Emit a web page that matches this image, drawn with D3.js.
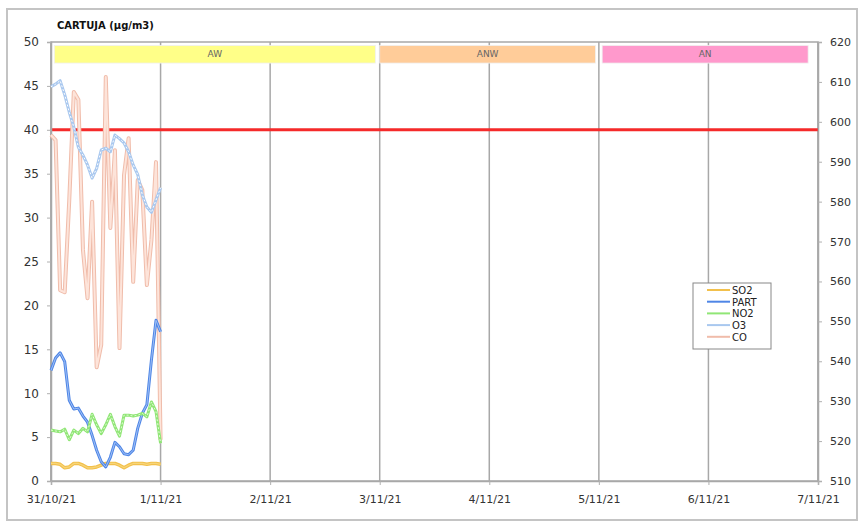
<!DOCTYPE html>
<html>
<head>
<meta charset="utf-8">
<script src="https://cdn.jsdelivr.net/npm/d3@7"></script>
<style>
  body { margin: 0; background: #fff; }
  text { font-family: "DejaVu Sans", Verdana, sans-serif; }
</style>
</head>
<body>
<div id="chart"></div>
<script>
// hourly readings, 31/10/21 00:00 -> 1/11/21 00:00
var hours = d3.range(25);
var so2  = [2.0, 2.0, 1.9, 1.5, 1.6, 2.0, 2.0, 1.8, 1.5, 1.5, 1.6, 1.8, 2.0, 2.0, 2.0, 1.8, 1.5, 1.8, 2.0, 2.0, 2.0, 1.9, 2.0, 2.0, 1.9];
var part = [12.6, 14.0, 14.6, 13.6, 9.2, 8.2, 8.3, 7.4, 6.7, 5.2, 3.5, 2.2, 1.6, 2.7, 4.4, 3.9, 3.1, 3.0, 3.5, 6.0, 7.7, 8.7, 13.8, 18.3, 17.0];
var no2  = [5.8, 5.7, 5.6, 5.9, 4.7, 5.8, 5.4, 6.0, 5.6, 7.6, 6.4, 5.4, 6.4, 7.6, 6.2, 5.1, 7.5, 7.5, 7.4, 7.5, 7.7, 7.3, 9.0, 7.9, 4.3];
var o3   = [44.9, 45.2, 45.6, 44.0, 42.0, 40.3, 38.0, 37.1, 36.0, 34.5, 35.6, 37.7, 37.9, 37.5, 39.4, 39.0, 38.5, 37.5, 36.0, 34.9, 32.6, 31.2, 30.6, 32.0, 33.4];
// CO on the right axis
var co   = [596.7, 595.4, 557.8, 557.3, 580.4, 607.5, 605.5, 567.9, 555.8, 580.0, 538.5, 544.1, 611.2, 573.4, 592.9, 543.3, 586.7, 595.9, 559.9, 585.4, 582.9, 559.1, 570.4, 589.9, 520.3];

var limitValue = 40;

var bandNames = ["AW", "ANW", "AN"];
var bandStart = [0.03, 3.0, 5.03];
var bandEnd   = [2.96, 4.97, 6.91];
var bandColors = ["#ffff88", "#ffcc99", "#ff99cc"];

var leftTicks = [0, 5, 10, 15, 20, 25, 30, 35, 40, 45, 50];
var rightTicks = [510, 520, 530, 540, 550, 560, 570, 580, 590, 600, 610, 620];

var seriesNames = ["SO2", "PART", "NO2", "O3", "CO"];
var seriesValues = [so2, part, no2, o3, co];
var seriesStyle = [
    {outer: "#f2c04c", ow: 3.5, inner: "#f7d57a", iw: 1.2, dash: null, right: false},
    {outer: "#4f86e6", ow: 3, inner: "#9fc0f6", iw: 1, dash: null, right: false},
    {outer: "#90e676", ow: 3, inner: "#e2fbd6", iw: 1, dash: "2,2", right: false},
    {outer: "#a9c8ef", ow: 3, inner: "#ffffff", iw: 1, dash: "2,2", right: false},
    {outer: "#f0bcaa", ow: 4, inner: "#fde4da", iw: 2, dash: null, right: true}
];
// CO sits behind the others
var drawOrder = [4, 0, 1, 2, 3];

function drawChart() {
    var width = 863, height = 525;
    var startDate = new Date(2021, 9, 31);
    var endDate = new Date(2021, 10, 7);

    var svg = d3.select("#chart")
        .append("svg")
        .attr("width", width)
        .attr("height", height);

    // outer frame
    svg.append("rect")
        .attr("x", 7).attr("y", 9)
        .attr("width", 850).attr("height", 511)
        .attr("fill", "#fff")
        .attr("stroke", "#c4c4c4")
        .attr("stroke-width", 2);

    var x = d3.scaleTime().domain([startDate, endDate]).range([51, 818]);
    var yLeft = d3.scaleLinear().domain([0, 50]).range([481, 42]);
    var yRight = d3.scaleLinear().domain([510, 620]).range([481, 42]);

    function hourDate(h) {
        return d3.timeHour.offset(startDate, h);
    }
    function dayDate(d) {
        return new Date(startDate.getTime() + d * 864e5);
    }

    svg.append("text")
        .attr("x", 57).attr("y", 29)
        .attr("font-size", 10)
        .attr("font-weight", "bold")
        .attr("fill", "#111")
        .text("CARTUJA (µg/m3)");

    // vertical day grid
    var days = d3.timeDay.range(startDate, d3.timeDay.offset(endDate, 1));
    svg.append("g")
        .selectAll("line")
        .data(days)
        .enter()
        .append("line")
        .attr("x1", function(d) { return x(d); })
        .attr("x2", function(d) { return x(d); })
        .attr("y1", 42).attr("y2", 481)
        .attr("stroke", "#a8a8a8")
        .attr("stroke-width", 1.5);

    // plot frame
    svg.append("rect")
        .attr("x", 51).attr("y", 42)
        .attr("width", 767).attr("height", 439)
        .attr("fill", "none")
        .attr("stroke", "#a8a8a8")
        .attr("stroke-width", 1.5);

    // bands at the top
    var bands = svg.append("g").selectAll("g")
        .data(bandNames)
        .enter()
        .append("g");

    bands.append("rect")
        .attr("x", function(d, i) { return x(dayDate(bandStart[i])); })
        .attr("width", function(d, i) { return x(dayDate(bandEnd[i])) - x(dayDate(bandStart[i])); })
        .attr("y", yLeft(49.6))
        .attr("height", yLeft(47.6) - yLeft(49.6))
        .attr("fill", function(d, i) { return bandColors[i]; })
        .attr("stroke", "#f0f0f0")
        .attr("stroke-width", 0.8);

    bands.append("text")
        .attr("x", function(d, i) { return (x(dayDate(bandStart[i])) + x(dayDate(bandEnd[i]))) / 2; })
        .attr("y", yLeft(48.6) + 3)
        .attr("text-anchor", "middle")
        .attr("font-size", 9)
        .attr("fill", "#666")
        .text(function(d) { return d; });

    // limit line
    svg.append("line")
        .attr("x1", x(startDate)).attr("x2", x(endDate))
        .attr("y1", yLeft(limitValue)).attr("y2", yLeft(limitValue))
        .attr("stroke", "#f52a2a")
        .attr("stroke-width", 3);

    // axes
    var leftAxis = svg.append("g")
        .attr("transform", "translate(51,0)")
        .call(d3.axisLeft(yLeft).tickValues(leftTicks).tickSize(4).tickPadding(8));

    var rightAxis = svg.append("g")
        .attr("transform", "translate(818,0)")
        .call(d3.axisRight(yRight).tickValues(rightTicks).tickSize(4).tickPadding(8));

    var bottomAxis = svg.append("g")
        .attr("transform", "translate(0,481)")
        .call(d3.axisBottom(x).tickValues(days).tickFormat(d3.timeFormat("%-d/%m/%y")).tickSize(4).tickPadding(10));

    [leftAxis, rightAxis, bottomAxis].forEach(function(a) {
        a.select(".domain").attr("stroke", "#a8a8a8").attr("stroke-width", 1.5);
        a.selectAll(".tick line").attr("stroke", "#b0b0b0");
        a.selectAll(".tick text")
            .attr("font-family", "\"DejaVu Sans\", Verdana, sans-serif")
            .attr("font-size", 11)
            .attr("fill", "#333");
    });
    leftAxis.selectAll(".tick text").attr("font-size", 12);

    // series lines
    var lineGroup = svg.append("g");
    drawOrder.forEach(function(i) {
        var vals = seriesValues[i];
        var st = seriesStyle[i];
        var yScale = st.right ? yRight : yLeft;
        var line = d3.line()
            .x(function(d, h) { return x(hourDate(hours[h])); })
            .y(function(d) { return yScale(d); });

        lineGroup.append("path")
            .datum(vals)
            .attr("d", line)
            .attr("fill", "none")
            .attr("stroke", st.outer)
            .attr("stroke-width", st.ow)
            .attr("stroke-linejoin", "round");

        lineGroup.append("path")
            .datum(vals)
            .attr("d", line)
            .attr("fill", "none")
            .attr("stroke", st.inner)
            .attr("stroke-width", st.iw)
            .attr("stroke-dasharray", st.dash)
            .attr("stroke-linejoin", "round");
    });

    // legend
    var legend = svg.append("g").attr("transform", "translate(693,283)");
    legend.append("rect")
        .attr("width", 78).attr("height", 66)
        .attr("fill", "#fff")
        .attr("stroke", "#888")
        .attr("stroke-width", 1);

    var items = legend.selectAll(".item")
        .data(seriesNames)
        .enter()
        .append("g")
        .attr("class", "item")
        .attr("transform", function(d, i) { return "translate(0," + (7 + i * 11.7) + ")"; });

    items.append("line")
        .attr("x1", 14).attr("x2", 37)
        .attr("stroke", function(d, i) { return seriesStyle[i].outer; })
        .attr("stroke-width", 2);

    items.append("text")
        .attr("x", 39).attr("y", 4)
        .attr("font-size", 10)
        .attr("fill", "#222")
        .text(function(d) { return d; });
}

drawChart();
</script>
</body>
</html>
